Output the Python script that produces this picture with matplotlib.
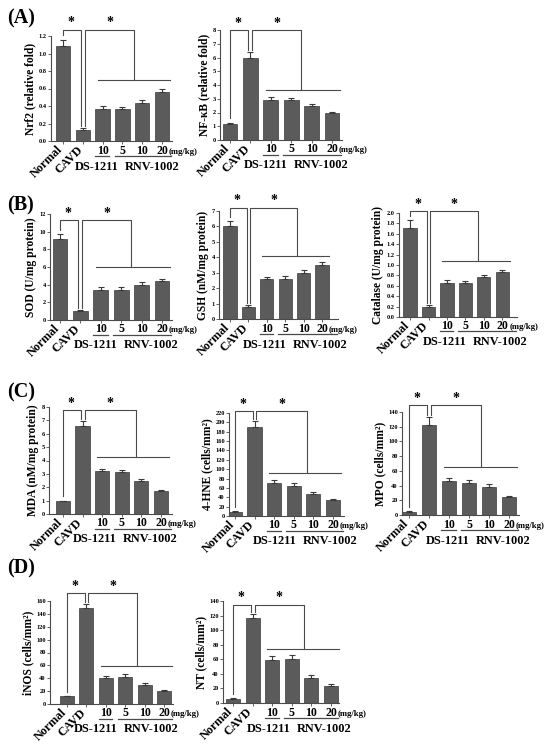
import matplotlib
matplotlib.use('Agg')
import matplotlib.pyplot as plt
import numpy as np

plt.rcParams['font.family'] = ['Liberation Serif', 'DejaVu Serif']
plt.rcParams['font.weight'] = 'bold'

# ---------------- data ----------------
groups = ['Normal', 'CAVD', '10', '5', '10', '20']
dose_unit = '(mg/kg)'
drug_labels = ['DS-1211', 'RNV-1002']

nrf2 = [1.09, 0.13, 0.37, 0.37, 0.43, 0.56]
nrf2_err = [0.07, 0.02, 0.03, 0.02, 0.04, 0.03]
nfkb = [1.15, 6.0, 2.9, 2.9, 2.45, 1.95]
nfkb_err = [0.1, 0.38, 0.2, 0.17, 0.15, 0.06]
sod = [9.2, 1.0, 3.45, 3.45, 4.0, 4.45]
sod_err = [0.5, 0.1, 0.25, 0.25, 0.25, 0.2]
gsh = [6.0, 0.8, 2.6, 2.6, 3.0, 3.5]
gsh_err = [0.35, 0.08, 0.15, 0.2, 0.2, 0.2]
catalase = [1.72, 0.2, 0.66, 0.66, 0.76, 0.86]
catalase_err = [0.14, 0.03, 0.05, 0.04, 0.04, 0.04]
mda = [0.95, 6.55, 3.2, 3.15, 2.45, 1.72]
mda_err = [0.05, 0.4, 0.2, 0.15, 0.15, 0.1]
hne = [8, 190, 70, 64, 48, 34]
hne_err = [2, 12, 6, 6, 4, 2]
mpo = [4, 123, 46, 44, 38, 24]
mpo_err = [1, 10, 4, 4, 3.5, 2]
inos = [12, 149, 40, 42, 30, 20]
inos_err = [1, 6, 4, 4, 3, 1.5]
nt = [6, 117, 59, 61, 35, 23]
nt_err = [1, 5, 5, 5, 3, 3]

ylabels = ['Nrf2 (relative fold)', 'NF-κB (relative fold)',
           'SOD (U/mg protein)', 'GSH (nM/mg protein)', 'Catalase (U/mg protein)',
           'MDA (nM/mg protein)', '4-HNE (cells/mm²)', 'MPO (cells/mm²)',
           'iNOS (cells/mm²)', 'NT (cells/mm²)']
panel_letters = ['(A)', '(B)', '(C)', '(D)']

# ---------------- layout (pixels in a 550x747 figure) ----------------
W, H = 550, 747
BAR = '#5b5b5b'
LINE = '#4a4a4a'

# (values, errors, ylabel, ymax, ystep, fmt, box(x0,x1,ytop,ybot), xlim, bracket(top,line,drop))
panels = [
    (nrf2, nrf2_err, ylabels[0], 1.2, 0.2, '%.1f', (51, 172, 36, 141), (-0.6, 5.5), (1.27, 0.70, 3.6)),
    (nfkb, nfkb_err, ylabels[1], 8, 1, '%d', (220, 342, 30, 140), (-0.49, 5.49), (8.0, 3.64, 3.5)),
    (sod, sod_err, ylabels[2], 12, 2, '%d', (50, 172, 214, 320), (-0.49, 5.49), (11.3, 6.0, 3.5)),
    (gsh, gsh_err, ylabels[3], 7, 1, '%d', (219, 338, 211, 319), (-0.6, 5.87), (7.2, 4.08, 3.64)),
    (catalase, catalase_err, ylabels[4], 2.0, 0.2, '%.1f', (399, 517, 213, 317), (-0.6, 5.8), (2.04, 1.08, 3.7)),
    (mda, mda_err, ylabels[5], 8, 1, '%d', (49, 172, 407, 514), (-0.71, 5.56), (7.77, 4.27, 3.72)),
    (hne, hne_err, ylabels[6], 220, 20, '%d', (229, 344, 413, 516), (-0.3, 5.56), (224, 92, 3.67)),
    (mpo, mpo_err, ylabels[7], 140, 20, '%d', (402, 519, 412, 515), (-0.35, 5.5), (149.5, 65, 3.6)),
    (inos, inos_err, ylabels[8], 160, 20, '%d', (50, 173, 601, 704), (-0.88, 5.46), (172, 59, 3.6)),
    (nt, nt_err, ylabels[9], 140, 20, '%d', (223, 339, 601, 703), (-0.51, 5.41), (135, 74, 3.6)),
]
letter_pos = [(7, 18), (7, 205), (7, 392), (7, 568)]

PX = 0.72  # points per pixel at dpi 100

fig = plt.figure(figsize=(W / 100, H / 100), dpi=100)
fig.patch.set_facecolor('white')

for vals, errs, ylab, ymax, ystep, fmt, box, xl, br in panels:
    x0, x1, yt, yb = box
    ax = fig.add_axes([x0 / W, 1 - yb / H, (x1 - x0) / W, (yb - yt) / H])
    x = np.arange(len(vals))
    ax.bar(x, vals, width=0.72, color=BAR, edgecolor='#3a3a3a', linewidth=0.5, zorder=2)
    ax.errorbar(x, vals, yerr=[np.zeros(len(errs)), errs], fmt='none', ecolor='#3a3a3a',
                elinewidth=0.8, capsize=2.4, capthick=0.8, zorder=3)
    ax.set_xlim(*xl)
    ax.set_ylim(0, ymax)
    ticks = np.arange(0, ymax + ystep / 2, ystep)
    ax.set_yticks(ticks)
    ax.set_yticklabels([fmt % t for t in ticks], fontsize=4.6, fontweight='bold')
    ax.set_xticks(x)
    ax.set_xticklabels([''] * len(x))
    ax.tick_params(axis='both', length=2, width=0.6, pad=1, color=LINE)
    for s in ['top', 'right']:
        ax.spines[s].set_visible(False)
    for s in ['left', 'bottom']:
        ax.spines[s].set_linewidth(0.8)
        ax.spines[s].set_color(LINE)
    ax.set_ylabel(ylab, fontsize=8.3, fontweight='bold', labelpad=1.5)

    # x labels
    for i in range(2):
        ax.annotate(groups[i], xy=(i, 0), xycoords=('data', 'axes fraction'),
                    xytext=(-1.5, -5), textcoords='offset points', rotation=45,
                    rotation_mode='anchor', ha='right', va='center', fontsize=8.7, fontweight='bold')
    for i in range(2, len(groups)):
        ax.annotate(groups[i], xy=(i, 0), xycoords=('data', 'axes fraction'),
                    xytext=(0, -9.5 * PX), textcoords='offset points',
                    ha='center', va='center', fontsize=8.6, fontweight='bold')
    ax.annotate(dose_unit, xy=(5, 0), xycoords=('data', 'axes fraction'),
                xytext=(5, -10.5 * PX), textcoords='offset points',
                ha='left', va='center', fontsize=6.3, fontweight='bold', annotation_clip=False)
    # underlines
    trans = ax.get_xaxis_transform()
    uy = -14.5 / (yb - yt)
    ax.plot([1.62, 2.33], [uy, uy], color=LINE, lw=0.9, transform=trans, clip_on=False)
    ax.plot([2.62, xl[1] - 0.05], [uy, uy], color=LINE, lw=0.9, transform=trans, clip_on=False)
    ax.annotate(drug_labels[0], xy=(0, 0), xycoords='axes fraction',
                xytext=(24 * PX, -25.5 * PX), textcoords='offset points',
                ha='left', va='center', fontsize=8.8, fontweight='bold', annotation_clip=False)
    ax.annotate(drug_labels[1], xy=(0, 0), xycoords='axes fraction',
                xytext=(74 * PX, -25.5 * PX), textcoords='offset points',
                ha='left', va='center', fontsize=8.8, fontweight='bold', annotation_clip=False)

    # significance brackets
    top, line, drop = br
    n_top = vals[0] + errs[0] + 0.04 * ymax
    c_top = vals[1] + errs[1] + 0.02 * ymax
    kw = dict(color=LINE, lw=0.8, clip_on=False)
    ax.plot([0, 0, 0.9, 0.9], [n_top, top, top, c_top], **kw)
    ax.plot([1.1, 1.1, drop, drop], [c_top, top, top, line], **kw)
    ax.plot([1.75, 5.4], [line, line], **kw)
    ax.annotate('*', xy=(0.4, top), xytext=(0, 0.3), textcoords='offset points',
                ha='center', va='bottom', fontsize=10, fontweight='bold', annotation_clip=False)
    ax.annotate('*', xy=((1.1 + drop) / 2, top), xytext=(0, 0.3), textcoords='offset points',
                ha='center', va='bottom', fontsize=10, fontweight='bold', annotation_clip=False)

for lab, (lx, ly) in zip(panel_letters, letter_pos):
    fig.text(lx / W, 1 - ly / H, lab, ha='left', va='center', fontsize=14.5, fontweight='bold')

fig.savefig('out.png', dpi=100, facecolor='white')
